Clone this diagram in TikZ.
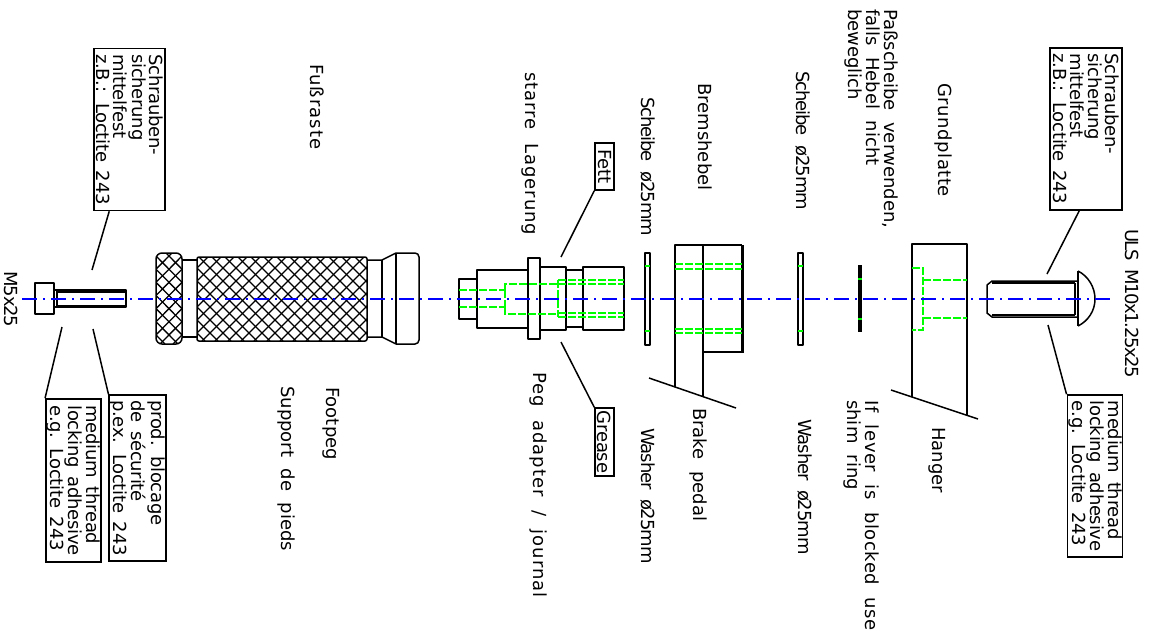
\documentclass[tikz,border=0pt]{standalone}
\usepackage{fontspec}
\setmainfont[WordSpace=2]{DejaVu Sans}
\newfontfamily\notefont[WordSpace=1.6,LetterSpace=-1.5]{DejaVu Sans}
\newfontfamily\tightfont[WordSpace=2,LetterSpace=-6]{DejaVu Sans}
\newfontfamily\narrowfont[WordSpace=2,LetterSpace=-8]{DejaVu Sans}
\newfontfamily\widefont[LetterSpace=3,WordSpace=2]{DejaVu Sans}
\newfontfamily\widerfont[LetterSpace=5.5,WordSpace=2]{DejaVu Sans}
\usetikzlibrary{calc}
\tikzset{
    part/.style = {line width=1.5pt, line join=round},
    bold/.style = {line width=3pt},
    hidden/.style = {line width=1.5pt, color=green, dash pattern=on 8pt off 2pt},
    axis/.style = {line width=1.5pt, color=blue, dash pattern=on 15pt off 6pt on 2pt off 6pt},
    knurl/.style = {line width=1.3pt},
    lbl/.style = {rotate=-90, anchor=north west, inner sep=0pt, align=left, font=\fontsize{18}{18}\selectfont},
    note/.style = {draw, line width=1.5pt, rotate=-90, align=left, inner sep=1pt, font=\fontsize{18}{#1}\selectfont\notefont},
    note/.default = 18
}
\begin{document}
\begin{tikzpicture}[x=1pt,y=-1pt]
    \useasboundingbox (0,0) rectangle (1152,633);

    % notes
    \node[note=17, minimum width=162pt, minimum height=71pt] (boxa) at (129.5,129.5) {Schrauben-\\sicherung\\mittelfest\\z.B.: Loctite 243};
    \node[note, minimum width=163pt, minimum height=53pt] (boxb) at (73.5,480.5) {medium thread\\locking adhesive\\e.g. Loctite 243};
    \node[note, minimum width=166pt, minimum height=53pt] (boxc) at (137.5,478) {prod. blocage\\de sécurité\\p.ex. Loctite 243};
    \node[note=17, minimum width=162pt, minimum height=72pt] (boxd) at (1086,129) {Schrauben-\\sicherung\\mittelfest\\z.B.: Loctite 243};
    \node[note, minimum width=162pt, minimum height=54pt] (boxe) at (1095,476) {medium thread\\locking adhesive\\e.g. Loctite 243};
    \node[note, minimum width=47pt, minimum height=19pt] (fett) at (604.5,166.5) {Fett};
    \node[note, minimum width=68pt, minimum height=19pt] (grease) at (604.5,442) {Grease};

    % leaders
    \coordinate (enda) at (92,270);
    \coordinate (endb) at (62,327);
    \coordinate (endc) at (93,329);
    \coordinate (endd) at (1047,274);
    \coordinate (ende) at (1048,325);
    \coordinate (endf) at (561,257);
    \coordinate (endg) at (561,342);
    \draw[part] ($(boxa.south east)+(16,0)$) -- (enda);
    \draw[part] (boxb.south west) -- (endb);
    \draw[part] (boxc.south west) -- (endc);
    \draw[part] ($(boxd.south east)+(30,0)$) -- (endd);
    \draw[part] (boxe.south west) -- (ende);
    \draw[part] (fett.south east) -- (endf);
    \draw[part] (grease.south west) -- (endg);

    % labels
    \node[lbl] (m5) at (18,271) {\tightfont M5x25};
    \node[lbl] (fussraste) at (324,64) {\widerfont Fußraste};
    \node[lbl] (lagerung) at (539,72) {\widerfont starre Lagerung};
    \node[lbl] (scheibea) at (655,97) {\tightfont Scheibe ø25mm};
    \node[lbl] (bremshebel) at (712,83) {Bremshebel};
    \node[lbl] (scheibeb) at (810,71) {\tightfont Scheibe ø25mm};
    \node[lbl] (passscheibe) at (898,9) {Paßscheibe verwenden,\\falls Hebel nicht\\beweglich};
    \node[lbl] (grundplatte) at (952,83) {\widefont Grundplatte};
    \node[lbl] (footpeg) at (340,387) {Footpeg};
    \node[lbl] (support) at (295,386) {Support de pieds};
    \node[lbl] (journal) at (547,372) {\widerfont Peg adapter / journal};
    \node[lbl] (washera) at (655,428) {\tightfont Washer ø25mm};
    \node[lbl] (brake) at (707,408) {Brake pedal};
    \node[lbl] (washerb) at (812,419) {\tightfont Washer ø25mm};
    \node[lbl] (shim) at (879,400) {\widefont If lever is blocked use\\shim ring};
    \node[lbl] (hanger) at (946,427) {Hanger};
    \node[lbl] (uls) at (1139,229) {\narrowfont ULS M10x1.25x25};

    % screw M5
    \draw[part] (35,283) rectangle (54,314);
    \draw[part] (54,290) -- (57,290) (54,307) -- (57,307);
    \draw[part] (57,290) rectangle (126,307);
    \draw[bold] (57,291) -- (125,291) (57,306) -- (125,306);

    % footpeg
    \begin{scope}
        \clip[rounded corners=6pt] (156,253) rectangle (182,344);
        \foreach \k in {0,13,...,130} {
            \draw[knurl] (146+\k,253) -- (56+\k,344);
            \draw[knurl] (62+\k,253) -- (152+\k,344);
        }
    \end{scope}
    \begin{scope}
        \clip (197,257) rectangle (367,341);
        \foreach \k in {0,13,...,340} {
            \draw[knurl] (117+\k,257) -- (33+\k,341);
            \draw[knurl] (30+\k,257) -- (114+\k,341);
        }
    \end{scope}
    \draw[part, rounded corners=6pt] (156,253) rectangle (182,344);
    \draw[part, rounded corners=2pt] (197,257) rectangle (367,341);
    \draw[part] (182,260) -- (197,260) (182,337) -- (197,337);
    \draw[part] (367,260) -- (382,260) -- (396,253) (367,337) -- (382,337) -- (396,344);
    \draw[part] (382,260) -- (382,337) (396,253) -- (396,344);
    \draw[part, rounded corners=4pt] (396,253) -- (419,253) -- (419,344) -- (396,344);

    % peg adapter
    \draw[part] (459,279) rectangle (477,319);
    \draw[part] (477,270) rectangle (528,328);
    \draw[part] (528,258) rectangle (540,339);
    \draw[part] (540,267) rectangle (566,330);
    \draw[part] (566,270) rectangle (583,327);
    \draw[part] (583,267) rectangle (624,330);
    \draw[hidden, line width=2.5pt] (459,290) -- (505,290) (459,307) -- (505,307);
    \draw[hidden] (505,290) -- (505,284) -- (558,284) (505,307) -- (505,314) -- (558,314) (505,290) -- (505,307);
    \draw[hidden] (558,280) -- (558,317);
    \draw[hidden] (558,280) -- (624,280) (558,284) -- (624,284) (558,313) -- (624,313) (558,317) -- (624,317);

    % washers
    \draw[part] (645,253) rectangle (650,345);
    \draw[part] (798,253) rectangle (803,345);
    \foreach \wx in {645,798} {
        \draw[hidden] (\wx,266) -- (\wx+5,266) (\wx,331) -- (\wx+5,331);
    }
    \draw[bold, line width=4pt] (860,265) -- (860,332);
    \draw[hidden] (858,279) -- (862,279) (858,319) -- (862,319);

    % brake pedal
    \draw[part] (649,378) -- (736,408);
    \draw[part] (675,387) -- (675,245) -- (742,245);
    \draw[part] (703,245) -- (703,397);
    \draw[part] (703,352) -- (742,352);
    \draw[bold] (742,245) -- (742,353);
    \foreach \hy in {264,269,329,333} {
        \draw[hidden] (675,\hy) -- (742,\hy);
    }

    % hanger
    \draw[part] (891,390) -- (978,419);
    \draw[part] (912,397) -- (912,244) -- (967,244) -- (967,416);
    \draw[hidden] (912,268) -- (923,268) -- (923,330) -- (912,330);
    \draw[hidden] (923,280) -- (967,280) (923,318) -- (967,318);

    % bolt
    \draw[part] (1078,281) -- (992,281) -- (987,285) -- (987,313) -- (992,317) -- (1078,317);
    \draw[part] (992,283) -- (1075,283) (992,315) -- (1075,315);
    \draw[part] (1075,283) -- (1075,315);
    \draw[part] (1078,271) -- (1078,326);
    \draw[part] (1078,271) .. controls (1088,276) and (1095,287) .. (1095,299) .. controls (1095,311) and (1088,321) .. (1078,326);

    % centre line
    \coordinate (axisa) at (22,299);
    \coordinate (axisb) at (1112,299);
    \draw[axis] (axisa) -- (axisb);
\end{tikzpicture}
\end{document}
